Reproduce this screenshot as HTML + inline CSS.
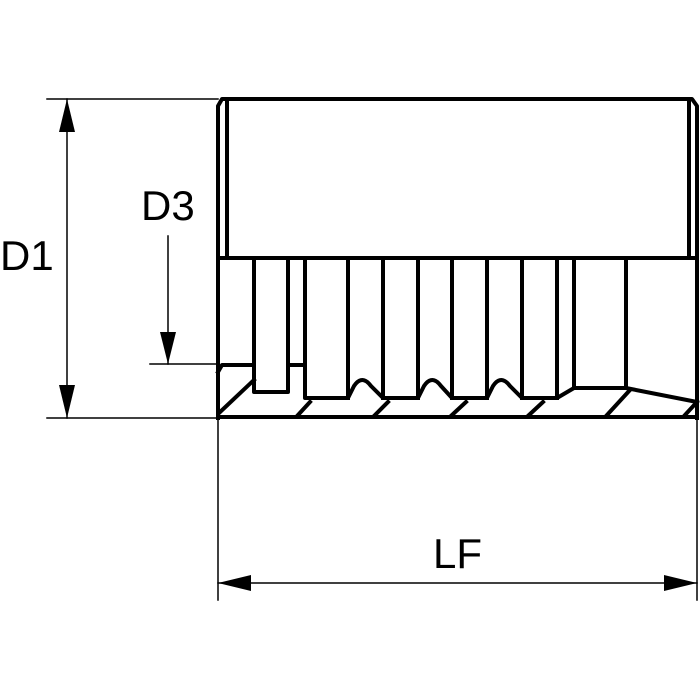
<!DOCTYPE html>
<html><head><style>html,body{margin:0;padding:0;background:#fff}svg{display:block}</style></head>
<body>
<svg width="700" height="700" viewBox="0 0 700 700" xmlns="http://www.w3.org/2000/svg">
<g stroke="#000" fill="none" stroke-linecap="square">
<!-- dimension thin lines -->
<g stroke-width="1.5">
<line x1="47" y1="99" x2="218" y2="99"/>
<line x1="47" y1="418" x2="218" y2="418"/>
<line x1="67" y1="99" x2="67" y2="418"/>
<line x1="168" y1="236" x2="168" y2="364"/>
<line x1="150" y1="364" x2="218" y2="364"/>
<line x1="218" y1="418" x2="218" y2="600"/>
<line x1="697" y1="418" x2="697" y2="600"/>
<line x1="218" y1="583" x2="697" y2="583"/>
</g>
<!-- body -->
<g stroke-width="4" stroke-linejoin="round">
<path d="M218,418 L218,106 L222,99 L692,99 L697,106 L697,418"/>
<line x1="227" y1="99" x2="227" y2="257"/>
<line x1="689" y1="99" x2="689" y2="257"/>
<line x1="218" y1="258" x2="697" y2="258"/>
<line x1="222" y1="417" x2="693" y2="417"/>
<path d="M218,372 L222,365 L254,365"/>
<line x1="288" y1="365" x2="305" y2="365"/>
<path d="M254,258 L254,392 L288,392 L288,258"/>
<path d="M305,258 L305,398 L348,398 L354,386 Q362,374 371,386 L383,398 L418,398 L424,386 Q432,374 441,386 L452,398 L487,398 L493,386 Q501,374 510,386 L522,398 L557,398 L574,388 L626,388 L697,402"/>
<line x1="348" y1="258" x2="348" y2="398"/>
<line x1="383" y1="258" x2="383" y2="398"/>
<line x1="418" y1="258" x2="418" y2="398"/>
<line x1="452" y1="258" x2="452" y2="398"/>
<line x1="487" y1="258" x2="487" y2="398"/>
<line x1="522" y1="258" x2="522" y2="398"/>
<line x1="557" y1="258" x2="557" y2="398"/>
<line x1="574" y1="258" x2="574" y2="388"/>
<line x1="626" y1="258" x2="626" y2="388"/>
<!-- hatch -->
<line x1="219" y1="413" x2="254" y2="380"/>
<line x1="298" y1="415" x2="310" y2="402"/>
<line x1="375" y1="415" x2="388" y2="402"/>
<line x1="452" y1="415" x2="466" y2="402"/>
<line x1="529" y1="415" x2="543" y2="402"/>
<line x1="607" y1="415" x2="630" y2="390"/>
<line x1="685" y1="415" x2="697" y2="402"/>
</g>
</g>
<g fill="#000">
<polygon points="67,99 59,132 75,132"/>
<polygon points="67,418 59,385 75,385"/>
<polygon points="168,364 160,332 176,332"/>
<polygon points="218,583 251,575 251,591"/>
<polygon points="697,583 664,575 664,591"/>
</g>
<g font-family="Liberation Sans, sans-serif" font-size="42" fill="#000">
<text x="0" y="270">D1</text>
<text x="141" y="220">D3</text>
<text x="433" y="568">LF</text>
</g>
</svg>
</body></html>
